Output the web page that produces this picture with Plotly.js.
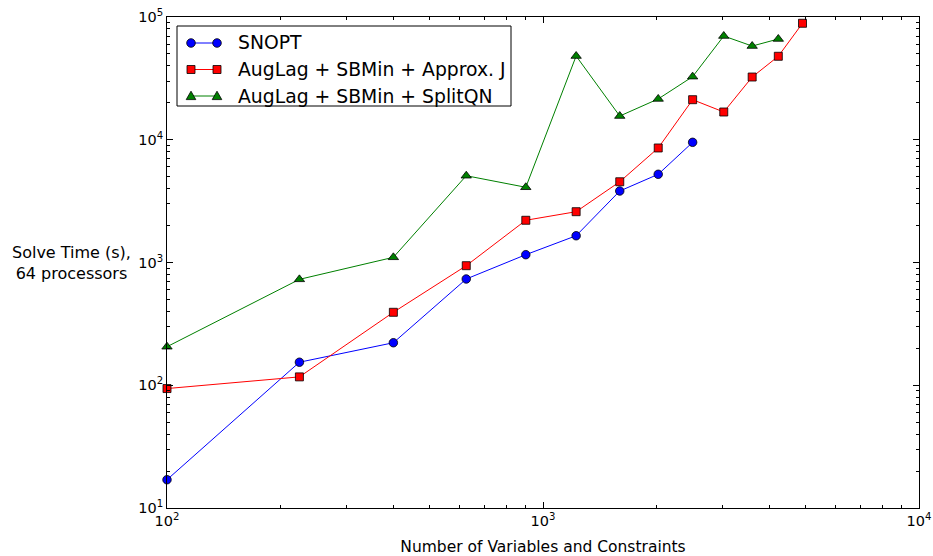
<!DOCTYPE html>
<html>
<head>
<meta charset="utf-8">
<script src="https://cdn.plot.ly/plotly-3.0.1.min.js"></script>
<style>html,body{margin:0;padding:0;background:#fff;}#chart{width:933px;height:556px;}</style>
</head>
<body>
<div id="chart"></div>
<script>
const xSnopt = [100, 225, 400, 625, 900, 1225, 1600, 2025, 2500];
const ySnopt = [17, 154, 222, 734, 1158, 1652, 3824, 5231, 9530];

const xApprox = [100, 225, 400, 625, 900, 1225, 1600, 2025, 2500, 3025, 3600, 4225, 4900];
const yApprox = [94, 117, 393, 942, 2208, 2594, 4548, 8570, 21200, 16830, 32430, 47860, 88900];

const xSplit = [100, 225, 400, 625, 900, 1225, 1600, 2025, 2500, 3025, 3600, 4225];
const ySplit = [206, 729, 1102, 5093, 4100, 48100, 15600, 21500, 32660, 70000, 58000, 66200];

const seriesNames = ['SNOPT', 'AugLag + SBMin + Approx. J', 'AugLag + SBMin + SplitQN'];
const seriesColors = ['#0000ff', '#ff0000', '#008000'];
const seriesSymbols = ['circle', 'square', 'triangle-up'];
const xTitle = 'Number of Variables and Constraints';
const yTitle = 'Solve Time (s),<br>64 processors';

const xTickVals = [100, 1000, 10000];
const xTickText = ['10<sup>2</sup>', '10<sup>3</sup>', '10<sup>4</sup>'];
const yTickVals = [10, 100, 1000, 10000, 100000];
const yTickText = ['10<sup>1</sup>', '10<sup>2</sup>', '10<sup>3</sup>', '10<sup>4</sup>', '10<sup>5</sup>'];

function minorVals(lo, hi) {
  const out = [];
  for (let d = lo; d < hi; d++) {
    for (let m = 2; m <= 9; m++) out.push(m * Math.pow(10, d));
  }
  return out;
}

const W = 933, H = 556;
const M = {l: 167, r: 14, t: 17, b: 48};
const PW = W - M.l - M.r, PH = H - M.t - M.b;
const px2x = p => (p - M.l) / PW;
const py2y = p => (H - M.b - p) / PH;

const font = 'DejaVu Sans, sans-serif';
const mk = (sym, col, s) => ({symbol: sym, size: s, color: col, line: {color: 'black', width: 0.8}});
const sizes = [8.5, 8, 9];

const traces = [
  {x: xSnopt, y: ySnopt, name: seriesNames[0]},
  {x: xApprox, y: yApprox, name: seriesNames[1]},
  {x: xSplit, y: ySplit, name: seriesNames[2]}
].map((t, i) => Object.assign(t, {
  mode: 'lines+markers', cliponaxis: false, showlegend: false,
  line: {color: seriesColors[i], width: 1}, marker: mk(seriesSymbols[i], seriesColors[i], sizes[i])
}));

// custom matplotlib-style legend (box, sample line with two markers, label)
const shapes = [];
const annotations = [];
const legBox = {x0: 177, x1: 511, y0: 26, y1: 106};
shapes.push({type: 'rect', xref: 'paper', yref: 'paper',
  x0: px2x(legBox.x0), x1: px2x(legBox.x1), y0: py2y(legBox.y1), y1: py2y(legBox.y0),
  line: {color: 'black', width: 1}, fillcolor: 'white', layer: 'above'});
const rowY = [43, 69.5, 96];
const lx0 = 191, lx1 = 217, tx = 236;
function markerShape(sym, col, cx, cy) {
  const base = {xref: 'paper', yref: 'paper', xsizemode: 'pixel', ysizemode: 'pixel',
    xanchor: px2x(cx), yanchor: py2y(cy), fillcolor: col, line: {color: 'black', width: 0.8}, layer: 'above'};
  if (sym === 'circle') return Object.assign(base, {type: 'circle', x0: -4.3, x1: 4.3, y0: -4.3, y1: 4.3});
  if (sym === 'square') return Object.assign(base, {type: 'rect', x0: -4, x1: 4, y0: -4, y1: 4});
  return Object.assign(base, {type: 'path', path: 'M -4.8 -3.6 L 4.8 -3.6 L 0 4.8 Z'});
}
seriesNames.forEach((name, i) => {
  const cy = rowY[i];
  shapes.push({type: 'line', xref: 'paper', yref: 'paper', x0: px2x(lx0), x1: px2x(lx1), y0: py2y(cy), y1: py2y(cy),
    line: {color: seriesColors[i], width: 1}, layer: 'above'});
  shapes.push(markerShape(seriesSymbols[i], seriesColors[i], lx0, cy));
  shapes.push(markerShape(seriesSymbols[i], seriesColors[i], lx1, cy));
  annotations.push({text: name, xref: 'paper', yref: 'paper', x: px2x(tx), y: py2y(cy), xanchor: 'left', yanchor: 'middle',
    showarrow: false, font: {family: font, size: 18.8, color: 'black'}});
});

annotations.push({
  text: yTitle, xref: 'paper', yref: 'paper', x: px2x(71), y: 0.5, xanchor: 'center', yanchor: 'middle',
  showarrow: false, align: 'center', font: {family: font, size: 16, color: 'black'}
});

const axisCommon = {
  type: 'log', tickmode: 'array', showgrid: false, zeroline: false,
  showline: true, linecolor: 'black', linewidth: 1, mirror: 'ticks',
  ticks: 'inside', ticklen: 6, tickwidth: 1, tickcolor: 'black',
  tickfont: {family: font, size: 14.5, color: 'black'}
};

const layout = {
  width: W, height: H,
  margin: M,
  paper_bgcolor: 'white', plot_bgcolor: 'white',
  font: {family: font, color: 'black'},
  showlegend: false,
  xaxis: Object.assign({}, axisCommon, {
    range: [2, 4], tickvals: xTickVals, ticktext: xTickText,
    minor: {tickmode: 'array', tickvals: minorVals(2, 4), ticks: 'inside', ticklen: 3, tickwidth: 1, tickcolor: 'black', showgrid: false},
    title: {text: xTitle, font: {family: font, size: 15.5, color: 'black'}, standoff: 12}
  }),
  yaxis: Object.assign({}, axisCommon, {
    range: [1, 5], tickvals: yTickVals, ticktext: yTickText,
    minor: {tickmode: 'array', tickvals: minorVals(1, 5), ticks: 'inside', ticklen: 3, tickwidth: 1, tickcolor: 'black', showgrid: false}
  }),
  shapes: shapes,
  annotations: annotations
};

Plotly.newPlot('chart', traces, layout, {displayModeBar: false, staticPlot: true});
</script>
</body>
</html>
